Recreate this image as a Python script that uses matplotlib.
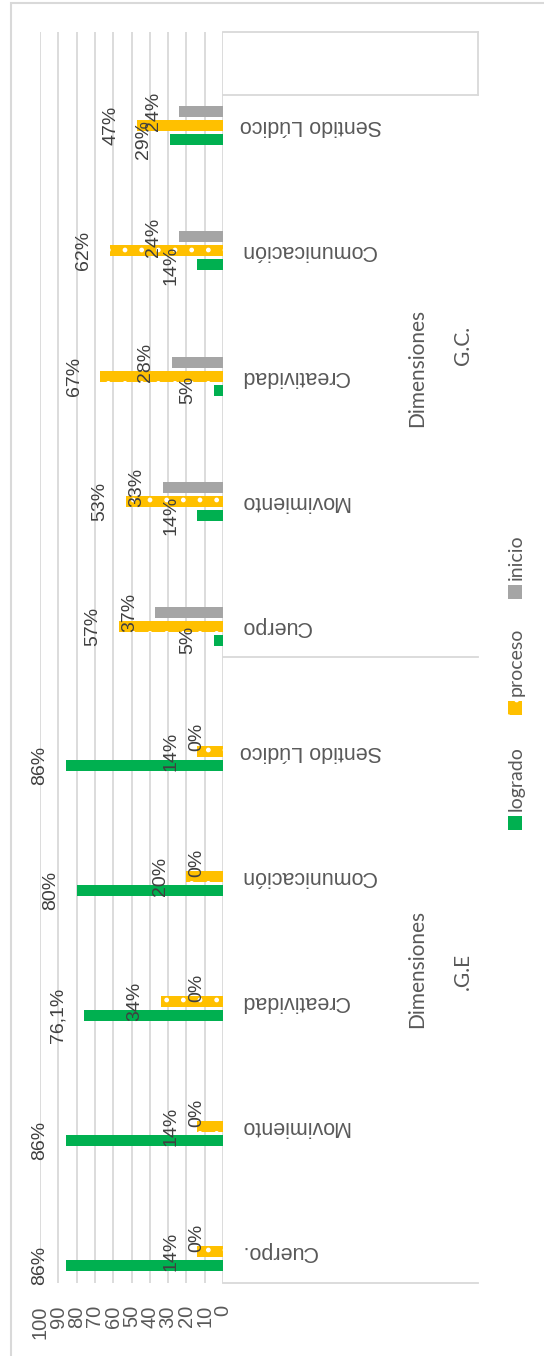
import matplotlib.pyplot as plt
from matplotlib.lines import Line2D
from matplotlib.patches import Rectangle
from matplotlib.transforms import blended_transform_factory

# data (percentages), bottom to top as drawn
categorias = ['Cuerpo.', 'Movimiento', 'Creatividad', 'Comunicación', 'Sentido Lúdico',
              'Cuerpo', 'Movimiento', 'Creatividad', 'Comunicación', 'Sentido Lúdico']
logrado = [86, 86, 76.1, 80, 86, 5, 14, 5, 14, 29]
proceso = [14, 14, 34, 20, 14, 57, 53, 67, 62, 47]
inicio = [0, 0, 0, 0, 0, 37, 33, 28, 24, 24]
lbl_logrado = ['86%', '86%', '76,1%', '80%', '86%', '5%', '14%', '5%', '14%', '29%']
lbl_proceso = ['14%', '14%', '34%', '20%', '14%', '57%', '53%', '67%', '62%', '47%']
lbl_inicio = ['0%', '0%', '0%', '0%', '0%', '37%', '33%', '28%', '24%', '24%']
grupos = ['.G.E', 'G.C.']

W, H = 544, 1356
C_LOG = '#00B050'
C_PRO = '#FFC000'
C_INI = '#A5A5A5'
C_GRID = '#D9D9D9'
C_TXT = '#595959'
C_LBL = '#404040'


def fx(x):
    return x / W


def fy(y):
    return 1 - y / H


plt.rcParams['hatch.linewidth'] = 1.0
fig = plt.figure(figsize=(W / 100, H / 100), dpi=100)

# outer chart border
fig.add_artist(Rectangle((fx(11), fy(1360)), fx(560) - fx(11), fy(3) - fy(1360),
                         transform=fig.transFigure, fill=False, ec=C_GRID, lw=1.5))

ax = fig.add_axes([fx(40), fy(1283), fx(223) - fx(40), fy(32) - fy(1283)])
ax.set_xlim(100, 0)
ax.set_ylim(-0.25, 9.75)
for s in ax.spines.values():
    s.set_visible(False)
ax.set_xticks(range(0, 101, 10))
ax.set_xticklabels([str(v) for v in range(0, 101, 10)], rotation=90,
                   fontsize=14.5, color=C_TXT, family='Liberation Sans')
ax.tick_params(axis='x', length=0, pad=16)
ax.set_yticks([])
ax.grid(axis='x', color=C_GRID, lw=1.3)
ax.set_axisbelow(True)

pos = list(range(len(categorias)))
bh = 0.088
off = 0.112
ax.barh([p - off for p in pos], logrado, height=bh, color=C_LOG)
ax.barh(pos, proceso, height=bh, color=C_PRO, hatch='.', edgecolor='white', linewidth=0)
ax.barh([p + off for p in pos], inicio, height=bh, color=C_INI)

for vals, lbls, d in [(logrado, lbl_logrado, -off), (proceso, lbl_proceso, 0), (inicio, lbl_inicio, off)]:
    for p, v, t in zip(pos, vals, lbls):
        ax.annotate(t, xy=(v, p + d), xytext=(-18.7, 0), textcoords='offset points',
                    rotation=90, ha='center', va='center', fontsize=14,
                    color=C_LBL, family='Liberation Sans', annotation_clip=False)

# category labels (upside down)
tr = blended_transform_factory(fig.transFigure, ax.transData)
for p, c in zip(pos, categorias):
    ax.text(fx(240), p, c, transform=tr, rotation=180, ha='left', va='center',
            fontsize=15.5, color=C_TXT, family='Liberation Sans')

# category axis box lines
for y in [32, 95, 657, 1283]:
    fig.add_artist(Line2D([fx(223), fx(478)], [fy(y), fy(y)], color=C_GRID, lw=1.3))
fig.add_artist(Line2D([fx(478), fx(478)], [fy(32), fy(95)], color=C_GRID, lw=1.3))

# group labels
fig.text(fx(417), fy(969), 'Dimensiones', rotation=90, ha='center', va='center',
         fontsize=15, color=C_TXT, family='Lato')
fig.text(fx(463), fy(971), grupos[0], rotation=90, ha='center', va='center',
         fontsize=15, color=C_TXT, family='Lato')
fig.text(fx(417), fy(368), 'Dimensiones', rotation=90, ha='center', va='center',
         fontsize=15, color=C_TXT, family='Lato')
fig.text(fx(463), fy(345), grupos[1], rotation=90, ha='center', va='center',
         fontsize=15, color=C_TXT, family='Lato')

# legend (rotated)
leg = [('logrado', C_LOG, 823, None), ('proceso', C_PRO, 708, '.'), ('inicio', C_INI, 592, None)]
for name, col, y, h in leg:
    fig.add_artist(Rectangle((fx(508), fy(y + 7)), fx(522) - fx(508), fy(y - 7) - fy(y + 7),
                             transform=fig.transFigure, color=col, hatch=h,
                             ec='white' if h else col, lw=0))
    fig.text(fx(516), fy(y - 12), name, rotation=90, ha='center', va='bottom',
             fontsize=14, color=C_TXT, family='Lato')

fig.savefig('out.png', dpi=100)
